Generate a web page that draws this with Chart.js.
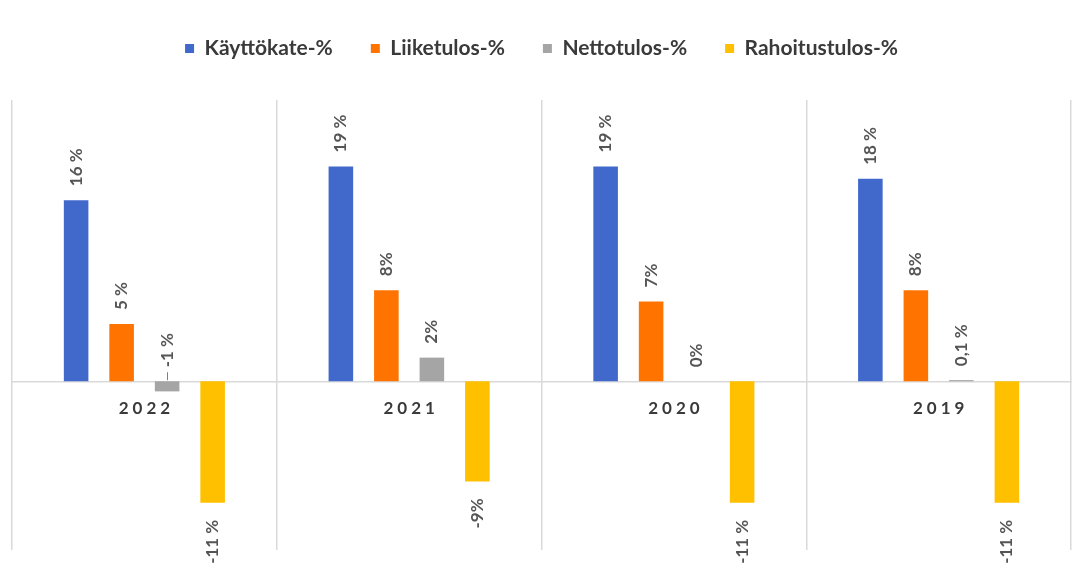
<!DOCTYPE html>
<html><head><meta charset="utf-8">
<script src="https://cdn.jsdelivr.net/npm/chart.js@4"></script>
<style>html,body{margin:0;padding:0;background:#fff}#wrap{width:1086px;height:570px}</style>
</head><body><div id="wrap"><canvas id="c" width="1086" height="570"></canvas></div>
<script>
const categories = ['2022', '2021', '2020', '2019'];
const seriesNames = ['Käyttökate-%', 'Liiketulos-%', 'Nettotulos-%', 'Rahoitustulos-%'];
const kayttokate = [16.1, 19.1, 19.1, 18.0];
const liiketulos = [5.1, 8.1, 7.1, 8.1];
const nettotulos = [-0.9, 2.1, 0, 0.1];
const rahoitustulos = [-10.8, -8.9, -10.8, -10.8];
const kayttokateLabels = ['16 %', '19 %', '19 %', '18 %'];
const liiketulosLabels = ['5 %', '8%', '7%', '8%'];
const nettotulosLabels = ['-1 %', '2%', '0%', '0,1 %'];
const rahoitustulosLabels = ['-11 %', '-9%', '-11 %', '-11 %'];
const yMin = -15, yMax = 25;

const colors = ['#4169CC', '#FF7300', '#A5A5A5', '#FFC000'];
const seriesValues = [kayttokate, liiketulos, nettotulos, rahoitustulos];
const seriesLabels = [kayttokateLabels, liiketulosLabels, nettotulosLabels, rahoitustulosLabels];
const FONT = 'Lato, "Open Sans", sans-serif';

const legendHeight = {
  id: 'legendHeight',
  beforeInit(chart) {
    const orig = chart.legend.fit;
    chart.legend.fit = function () { orig.call(this); this.height = 100; };
  }
};

const valueLabels = {
  id: 'valueLabels',
  afterDatasetsDraw(chart) {
    const ctx = chart.ctx;
    const yScale = chart.scales.y;
    const zeroY = yScale.getPixelForValue(0);
    ctx.save();
    ctx.font = 'bold 17px ' + FONT;
    ctx.fillStyle = '#555555';
    ctx.textBaseline = 'middle';
    chart.data.datasets.forEach((ds, di) => {
      const meta = chart.getDatasetMeta(di);
      meta.data.forEach((bar, i) => {
        const v = ds.data[i];
        const txt = seriesLabels[di][i];
        const small = v < 0 && v > -2;
        ctx.save();
        if (v >= 0 || small) {
          const top = small ? zeroY : Math.min(bar.y, bar.base);
          ctx.translate(bar.x, top - 14);
          ctx.rotate(-Math.PI / 2);
          ctx.textAlign = 'left';
          ctx.fillText(txt, 0, 0);
          if (small) {
            ctx.restore(); ctx.save();
            ctx.strokeStyle = '#7f7f7f';
            ctx.lineWidth = 1;
            ctx.beginPath();
            ctx.moveTo(Math.round(bar.x) + 0.5, zeroY - 9);
            ctx.lineTo(Math.round(bar.x) + 0.5, zeroY - 1);
            ctx.stroke();
          }
        } else {
          ctx.translate(bar.x, Math.max(bar.y, bar.base) + 17);
          ctx.rotate(-Math.PI / 2);
          ctx.textAlign = 'right';
          ctx.fillText(txt, 0, 0);
        }
        ctx.restore();
      });
    });
    // category labels at the zero line
    const xScale = chart.scales.x;
    ctx.font = 'bold 17px ' + FONT;
    ctx.fillStyle = '#3a3a3a';
    ctx.textAlign = 'center';
    ctx.textBaseline = 'middle';
    if ('letterSpacing' in ctx) ctx.letterSpacing = '4px';
    categories.forEach((c, i) => {
      const x = xScale.getPixelForValue(i);
      ctx.fillText(c, x + 2, zeroY + 27);
    });
    ctx.restore();
  }
};

new Chart(document.getElementById('c'), {
  type: 'bar',
  data: {
    labels: categories,
    datasets: seriesNames.map((n, i) => ({
      label: n,
      data: seriesValues[i],
      backgroundColor: colors[i],
      borderWidth: 0,
      categoryPercentage: 0.6875,
      barPercentage: 0.54
    }))
  },
  options: {
    responsive: false,
    devicePixelRatio: 1,
    animation: false,
    layout: { padding: { left: 12, right: 15, top: 0, bottom: 20 } },
    plugins: {
      tooltip: { enabled: false },
      legend: {
        position: 'top',
        align: 'center',
        labels: {
          boxWidth: 9,
          boxHeight: 9,
          padding: 38,
          color: '#3a3a3a',
          font: { family: FONT, size: 21, weight: 'bold' }
        }
      }
    },
    scales: {
      x: {
        position: { y: 0 },
        offset: true,
        grid: { display: true, offset: true, color: '#d9d9d9', lineWidth: 1.5, drawTicks: false },
        border: { display: true, color: '#d9d9d9', width: 1.5 },
        ticks: { display: false }
      },
      y: {
        display: false,
        min: yMin,
        max: yMax,
        grid: { display: false }
      }
    }
  },
  plugins: [legendHeight, valueLabels]
});
</script>
</body></html>
